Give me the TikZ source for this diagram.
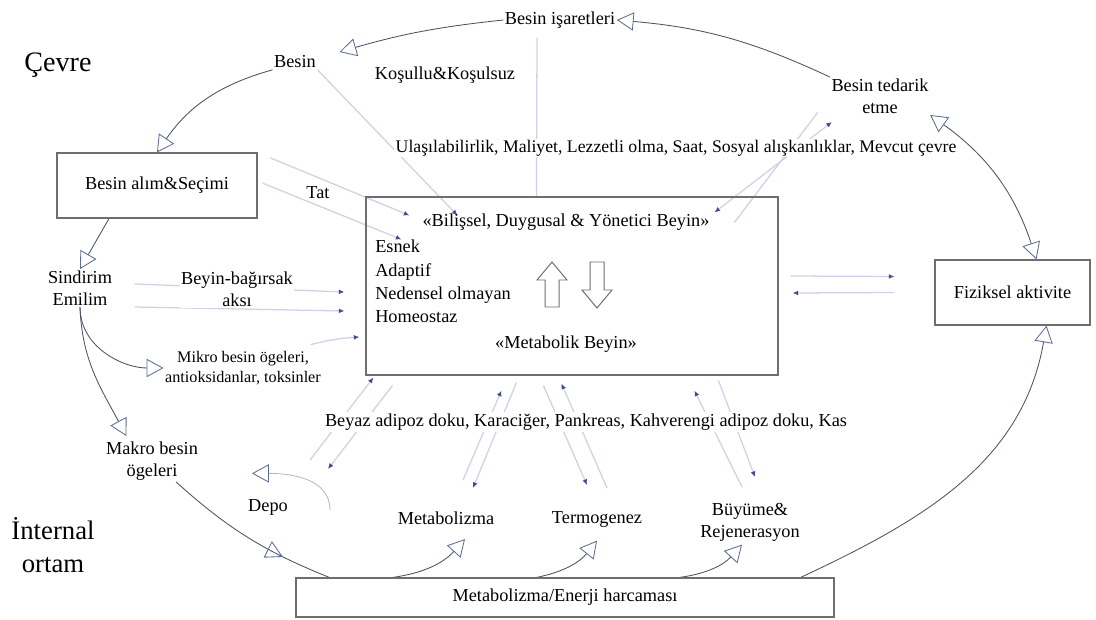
\documentclass[tikz,border=0pt]{standalone}
\usepackage{fontspec}
\setmainfont{Liberation Serif}
\usetikzlibrary{arrows.meta}
\usetikzlibrary{calc}
\usetikzlibrary{backgrounds}
\usetikzlibrary{decorations.markings}

\definecolor{curvecol}{HTML}{4B5163}
\definecolor{tipcol}{HTML}{5C6C92}
\definecolor{litecol}{HTML}{CDD2E7}
\definecolor{dotcol}{HTML}{3F4D8F}
\definecolor{boxcol}{HTML}{6E6E6E}

\begin{document}
\begin{tikzpicture}[tri/.tip={Triangle[open,length=12pt,width=13pt,color=tipcol]},
	box/.style={shape=rectangle,draw=boxcol,line width=0.8pt,font=\fontsize{13}{15.5}\selectfont},
	lbl/.style={font=\fontsize{13}{15.5}\selectfont,align=center,inner sep=1pt},
	big/.style={draw=curvecol,line width=0.6pt},
	lite/.style={draw=litecol,line width=0.9pt,-{Latex[length=4pt,width=3.5pt,color=dotcol]}},
	midtip/.style={postaction={decorate},decoration={markings,mark=at position #1 with {\arrow{tri}}}}]
	\useasboundingbox (0,0) rectangle (27.4,-15.475);
	% titles
	\draw (1.45,-1.625) node (cevre) [lbl,font=\fontsize{20}{24}\selectfont] {Çevre};
	\draw (1.325,-13.625) node (internal) [lbl,font=\fontsize{19}{24}\selectfont] {İnternal\\ortam};
	% top row
	\draw (7.375,-1.55) node (besin) [lbl] {Besin};
	\draw (14.0,-0.5) node (isaret) [lbl] {Besin işaretleri};
	\draw (11.125,-1.875) node (kosul) [lbl] {Koşullu\&Koşulsuz};
	\draw (22.0,-2.4) node (tedarik) [lbl] {Besin tedarik\\etme};
	\draw (16.9,-3.7) node (ulas) [lbl,fill=white,font=\fontsize{12.6}{15}\selectfont] {Ulaşılabilirlik, Maliyet, Lezzetli olma, Saat, Sosyal alışkanlıklar, Mevcut çevre};
	\draw (3.925,-4.6375) node (alim) [box,minimum width=5cm,minimum height=1.625cm] {Besin alım\&Seçimi};
	\draw (7.95,-4.825) node (tat) [lbl,fill=white] {Tat};
	% brain
	\draw (14.3,-7.15) node (beyin) [box,minimum width=10.3cm,minimum height=4.45cm] {};
	\draw (14.15,-5.55) node (bilissel) [lbl] {«Bilişsel, Duygusal \& Yönetici Beyin»};
	\draw (9.375,-6.0) node (liste) [anchor=north west,align=left,inner sep=0pt,font=\fontsize{13}{16.4}\selectfont] {Esnek\\Adaptif\\Nedensel olmayan\\Homeostaz};
	\draw (14.15,-8.6) node (metabolik) [lbl] {«Metabolik Beyin»};
	\draw[boxcol,line width=0.7pt] (13.625,-7.675) -- (13.625,-7.0) -- (13.425,-7.0) -- (13.8,-6.55) -- (14.175,-7.0) -- (13.975,-7.0) -- (13.975,-7.675) -- cycle;
	\draw[boxcol,line width=0.7pt] (14.75,-6.55) -- (14.75,-7.25) -- (14.55,-7.25) -- (14.925,-7.7) -- (15.3,-7.25) -- (15.1,-7.25) -- (15.1,-6.55) -- cycle;
	\draw (25.3125,-7.3125) node (fiziksel) [box,minimum width=3.875cm,minimum height=1.625cm] {Fiziksel aktivite};
	% left side
	\draw (2.0,-7.2) node (sindirim) [lbl] {Sindirim\\Emilim};
	\draw (5.925,-7.225) node (beyinbag) [lbl,fill=white] {Beyin-bağırsak\\aksı};
	\draw (6.075,-9.2) node (mikro) [lbl,font=\fontsize{11.5}{14}\selectfont] {Mikro besin ögeleri,\\antioksidanlar, toksinler};
	\draw (3.8,-11.525) node (makro) [lbl] {Makro besin\\ögeleri};
	\draw (6.7,-12.675) node (depo) [lbl] {Depo};
	% bottom
	\draw (14.65,-10.55) node (organ) [lbl,fill=white] {Beyaz adipoz doku, Karaciğer, Pankreas, Kahverengi adipoz doku, Kas};
	\draw (11.15,-12.95) node (metab) [lbl] {Metabolizma};
	\draw (14.925,-12.975) node (termo) [lbl] {Termogenez};
	\draw (18.75,-13.05) node (buyume) [lbl] {Büyüme\&\\Rejenerasyon};
	\draw (14.125,-14.9375) node (enerji) [box,minimum width=13.45cm,minimum height=0.975cm] {Metabolizma/Enerji harcaması};
	\coordinate (depostart) at (8.25,-12.75);
	\begin{scope}[on background layer]
		% outer cycle
		\draw[big,-tri] (isaret.west) to[bend right=5] ($(besin.east)+(0.55,0.25)$);
		\draw[big,-tri] (tedarik.north west) to[bend right=10] (isaret.east);
		\draw[big,-tri] (besin.south west) to[bend right=20] (alim.north);
		\draw[big,-tri] ($(alim.south)+(-1.2,0)$) -- (sindirim.north);
		\draw[big,-tri] (sindirim.south) to[out=-90,in=180] (mikro.west);
		\draw[big,-tri] (sindirim.south) to[out=-88,in=118] ($(makro.north west)+(0.55,0.1)$);
		\draw[big,midtip=0.72] ($(makro.south)+(0.6,0)$) to[bend right=10] ($(enerji.north west)+(0.85,0)$);
		\draw[draw=gray!55,line width=0.6pt,-tri] (depostart) to[out=90,in=0] ($(depo.north)+(-0.4,0.6)$);
		\draw[big,-tri] ($(enerji.north west)+(2.425,0)$) to[bend right=20] ($(metab.south)+(0.475,-0.325)$);
		\draw[big,-tri] ($(enerji.north west)+(6.025,0)$) to[bend right=20] ($(termo.south)+(0,-0.3)$);
		\draw[big,-tri] ($(enerji.north west)+(9.6,0)$) to[bend right=20] ($(buyume.south)+(-0.2,-0.05)$);
		\draw[big,-tri] ($(enerji.north east)+(-0.85,0)$) to[out=25,in=-100] ($(fiziksel.south)+(0.85,0)$);
		\draw[big,tri-tri] (tedarik.south east) to[bend left=18] ($(fiziksel.north)+(0.6,0)$);
		% signals to the brain
		\draw[lite] (besin.south east) -- ($(beyin.north west)+(2.3,-0.475)$);
		\draw[lite] ($(alim.east)+(0.325,0.69)$) -- ($(beyin.north west)+(1.1,-0.475)$);
		\draw[lite] ($(alim.east)+(0.125,0.06)$) -- ($(beyin.north west)+(0.9,-1.075)$);
		\draw[lite,-] ($(isaret.south)+(-0.575,-0.2)$) -- ($(beyin.north west)+(4.275,0)$);
		\draw[lite,-] ($(tedarik.south west)+(-0.3,0.07)$) -- ($(beyin.north west)+(9.225,-0.65)$);
		\draw[lite,{Latex[length=4pt,width=3.5pt,color=dotcol]}-{Latex[length=4pt,width=3.5pt,color=dotcol]}] ($(beyin.north west)+(8.725,-0.4)$) -- ($(tedarik.south west)+(0.05,-0.175)$);
		\draw[lite] ($(sindirim.east)+(0.525,0.1)$) -- ($(beyin.west)+(-0.525,-0.15)$);
		\draw[lite] ($(sindirim.east)+(0.525,-0.475)$) -- ($(beyin.west)+(-0.525,-0.625)$);
		\draw[lite] ($(mikro.north east)+(-0.3,0.125)$) to[bend left=5] ($(beyin.west)+(-0.15,-1.275)$);
		% organs
		\draw[lite] ($(depo)+(1.05,1.175)$) -- ($(beyin.south west)+(0.2,-0.05)$);
		\draw[lite] ($(beyin.south west)+(0.675,-0.25)$) -- ($(depo)+(1.5,0.95)$);
		\draw[lite] ($(metab)+(0.425,0.95)$) -- ($(beyin.south west)+(3.4,-0.375)$);
		\draw[lite] ($(beyin.south west)+(3.775,-0.175)$) -- ($(metab)+(0.675,0.75)$);
		\draw[lite] ($(termo)+(0.25,0.775)$) -- ($(beyin.south west)+(4.9,-0.2)$);
		\draw[lite] ($(beyin.south west)+(4.45,-0.25)$) -- ($(termo)+(-0.25,0.85)$);
		\draw[lite] ($(buyume)+(-0.2,0.875)$) -- ($(beyin.south west)+(8.225,-0.375)$);
		\draw[lite] ($(beyin.south west)+(8.825,-0.125)$) -- ($(buyume)+(0.125,1.125)$);
		% physical activity
		\draw[lite] ($(beyin.east)+(0.3,0.25)$) -- ($(fiziksel.west)+(-1,0.4)$);
		\draw[lite] ($(fiziksel.west)+(-1,0)$) -- ($(beyin.east)+(0.35,-0.175)$);
	\end{scope}
\end{tikzpicture}
\end{document}
